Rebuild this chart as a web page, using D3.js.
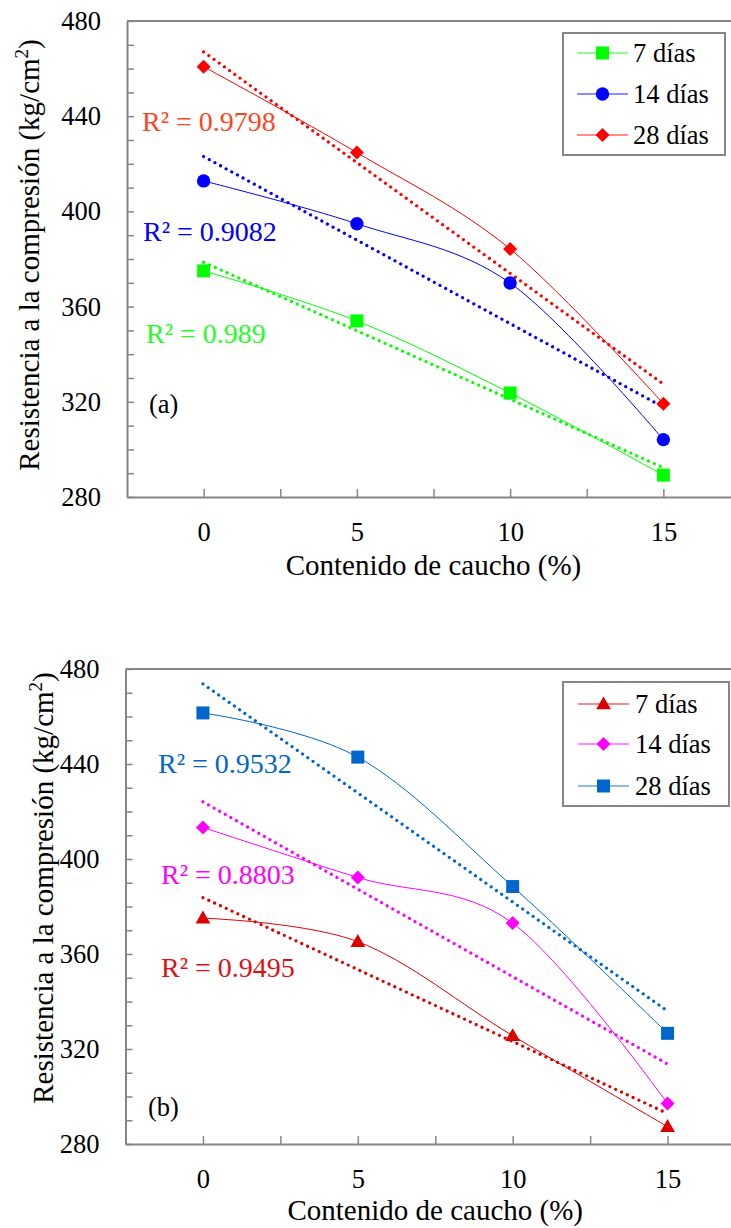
<!DOCTYPE html>
<html>
<head>
<meta charset="utf-8">
<script src="https://cdn.jsdelivr.net/npm/d3@7/dist/d3.min.js"></script>
</head>
<body style="margin:0; background:#fff;">
<div id="chart"></div>
<script>
// rubber content (%) on the x axis
const contenido = [0, 5, 10, 15];
const seriesNames = ['7 días', '14 días', '28 días'];

// panel (a)
const a7 = [375, 354, 323.7, 289.2];
const a14 = [412.8, 394.8, 369.9, 304.1];
const a28 = [460.8, 424.7, 384.2, 319.2];
const r2A = ['0.989', '0.9082', '0.9798'];

// panel (b)
const b7 = [375.1, 365.2, 325.6, 287.3];
const b14 = [413.3, 392.2, 373, 297];
const b28 = [461.5, 442.9, 388.4, 326.6];
const r2B = ['0.9495', '0.8803', '0.9532'];

const yTicks = d3.range(280, 481, 10);
const yLabels = [280, 320, 360, 400, 440, 480];
const xTicks = [0, 2.5, 5, 7.5, 10, 12.5, 15];
const xLabels = [0, 5, 10, 15];

const W = 731, H = 1228;
const axisColor = '#868686';
const serif = "'Liberation Serif', 'Times New Roman', Times, serif";

const svg = d3.select('#chart').append('svg')
  .attr('width', W)
  .attr('height', H)
  .style('font-family', serif);

const panels = [
  {
    tag: '(a)', tagPos: [149, 413],
    x0: 127, x1: 740, yTop: 21, yBot: 497,
    values: [a7, a14, a28], r2: r2A,
    colors: ['#00ff00', '#0000ff', '#ff0000'],
    r2Colors: ['#22ff22', '#0000ff', '#ff4422'],
    r2Pos: [[146, 343], [143, 241], [142, 131]],
    symbols: ['square', 'circle', 'diamond'],
    legend: { x: 563, y: 33, w: 162, h: 122, rows: [53, 94, 135], lx0: 577, lx1: 628, tx: 633 },
    yLabelX: 39, yLabelY: 255, xLabelY: 575
  },
  {
    tag: '(b)', tagPos: [148, 1116],
    x0: 125.5, x1: 745, yTop: 669, yBot: 1144,
    values: [b7, b14, b28], r2: r2B,
    colors: ['#dd0000', '#ff00ff', '#0066cc'],
    r2Colors: ['#dd1111', '#ff00ff', '#0066cc'],
    r2Pos: [[161, 977], [161, 884], [158, 773]],
    symbols: ['triangle', 'diamond', 'square'],
    legend: { x: 563, y: 682, w: 166, h: 124, rows: [704, 744, 786], lx0: 578, lx1: 629, tx: 635 },
    yLabelX: 53, yLabelY: 888, xLabelY: 1220
  }
];

const symbolPath = (type) => {
  if (type === 'square') return d3.symbol(d3.symbolSquare, 169)();
  if (type === 'circle') return d3.symbol(d3.symbolCircle, 140)();
  if (type === 'diamond') return d3.symbol(d3.symbolSquare, 98)();
  return d3.symbol(d3.symbolTriangle, 95)();
};

const drawMarker = (g, type, cx, cy, color) => {
  g.append('path')
    .attr('d', symbolPath(type))
    .attr('fill', color)
    .attr('transform', `translate(${cx},${cy})` + (type === 'diamond' ? ' rotate(45)' : '') + (type === 'triangle' ? ' translate(0,1)' : ''));
};

const addText = (sel, size) => sel.append('text')
  .style('font-family', serif)
  .attr('font-size', size)
  .attr('fill', '#000');

const drawPanel = (p) => {
  const x = d3.scaleLinear().domain([-2.5, 17.5]).range([p.x0, p.x1]);
  const y = d3.scaleLinear().domain([280, 480]).range([p.yBot, p.yTop]);
  const g = svg.append('g');

  // plot frame (top edge, right edge is cut off)
  g.append('line')
    .attr('x1', p.x0).attr('x2', W)
    .attr('y1', p.yTop).attr('y2', p.yTop)
    .attr('stroke', axisColor).attr('stroke-width', 2);

  const yAxis = g.append('g')
    .attr('transform', `translate(${p.x0},0)`)
    .call(d3.axisLeft(y).tickValues(yTicks).tickSizeInner(-7).tickSizeOuter(0).tickPadding(26)
      .tickFormat(d => yLabels.includes(d) ? d : ''));

  const xAxis = g.append('g')
    .attr('transform', `translate(0,${p.yBot})`)
    .call(d3.axisBottom(x).tickValues(xTicks).tickSizeInner(-8).tickSizeOuter(0).tickPadding(25)
      .tickFormat(d => xLabels.includes(d) ? d : ''));

  [yAxis, xAxis].forEach(ax => {
    ax.attr('font-family', null).style('font-family', serif);
    ax.select('.domain').attr('stroke', axisColor).attr('stroke-width', 2);
    ax.selectAll('.tick line').attr('stroke', axisColor).attr('stroke-width', 1.5);
    ax.selectAll('.tick text').attr('fill', '#000').attr('font-size', 26.5)
      .style('font-family', serif);
  });

  const smooth = d3.line()
    .x((d, i) => x(contenido[i]))
    .y(d => y(d))
    .curve(d3.curveCardinal.tension(0));

  p.values.forEach((vals, s) => {
    // linear trendline, least squares
    const mx = d3.mean(contenido), my = d3.mean(vals);
    const slope = d3.sum(contenido, (c, i) => (c - mx) * (vals[i] - my)) / d3.sum(contenido, c => (c - mx) ** 2);
    const fit = c => my + slope * (c - mx);
    g.append('line')
      .attr('x1', x(0)).attr('y1', y(fit(0)))
      .attr('x2', x(15)).attr('y2', y(fit(15)))
      .attr('stroke', p.colors[s])
      .attr('stroke-width', 3.2)
      .attr('stroke-linecap', 'round')
      .attr('stroke-dasharray', '0.01 6.4');

    g.append('path')
      .datum(vals)
      .attr('fill', 'none')
      .attr('stroke', p.colors[s])
      .attr('stroke-width', 1)
      .attr('d', smooth);
  });

  p.values.forEach((vals, s) => {
    vals.forEach((v, i) => drawMarker(g, p.symbols[s], x(contenido[i]), y(v), p.colors[s]));
  });

  // R² labels
  p.r2.forEach((r, s) => {
    addText(g, 28)
      .attr('x', p.r2Pos[s][0]).attr('y', p.r2Pos[s][1])
      .attr('fill', p.r2Colors[s])
      .text(`R² = ${r}`);
  });

  addText(g, 26.5)
    .attr('x', p.tagPos[0]).attr('y', p.tagPos[1])
    .text(p.tag);

  // legend
  const L = p.legend;
  const lg = g.append('g');
  lg.append('rect')
    .attr('x', L.x).attr('y', L.y).attr('width', L.w).attr('height', L.h)
    .attr('fill', '#fff').attr('stroke', axisColor).attr('stroke-width', 2);
  seriesNames.forEach((name, s) => {
    lg.append('line')
      .attr('x1', L.lx0).attr('x2', L.lx1)
      .attr('y1', L.rows[s]).attr('y2', L.rows[s])
      .attr('stroke', p.colors[s]).attr('stroke-width', 1.5).attr('stroke-opacity', 0.6);
    drawMarker(lg, p.symbols[s], (L.lx0 + L.lx1) / 2, L.rows[s], p.colors[s]);
    addText(lg, 26.5)
      .attr('x', L.tx).attr('y', L.rows[s])
      .attr('dy', '0.35em')
      .text(name);
  });

  // axis titles
  const yt = addText(g, 29)
    .attr('transform', `translate(${p.yLabelX},${p.yLabelY}) rotate(-90)`)
    .attr('text-anchor', 'middle');
  yt.append('tspan').text('Resistencia a la compresión (kg/cm');
  yt.append('tspan').attr('font-size', 19).attr('dy', -11).text('2');
  yt.append('tspan').attr('dy', 11).text(')');

  addText(g, 29)
    .attr('x', (p.x0 + p.x1) / 2).attr('y', p.xLabelY)
    .attr('text-anchor', 'middle')
    .text('Contenido de caucho (%)');
};

panels.forEach(drawPanel);
</script>
</body>
</html>
